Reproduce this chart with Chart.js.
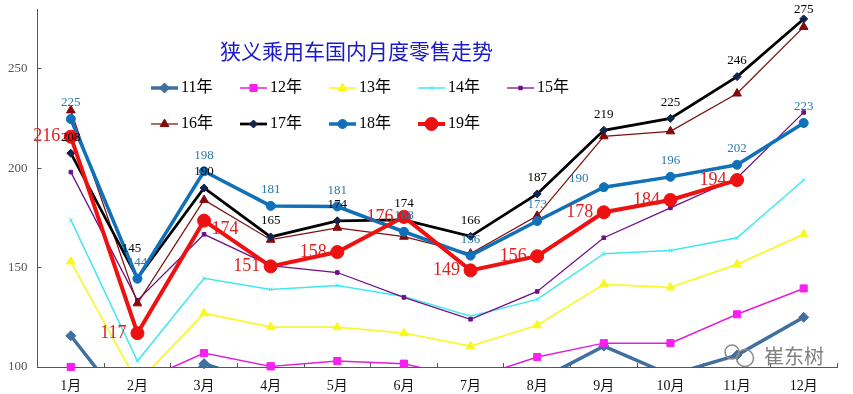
<!DOCTYPE html>
<html>
<head>
<meta charset="utf-8">
<style>
  html, body { margin: 0; padding: 0; background: #ffffff; }
  canvas { display: block; }
</style>
<script src="https://cdn.jsdelivr.net/npm/chart.js@4"></script>
</head>
<body>
<canvas id="my-chart" width="853" height="394"></canvas>
<script>
const months = ["1月", "2月", "3月", "4月", "5月", "6月", "7月", "8月", "9月", "10月", "11月", "12月"];
const yTicks = [100, 150, 200, 250];
const chartTitle = "狭义乘用车国内月度零售走势";
const watermark = "崔东树";

const y2011 = [115.7, 73, 101.6, 91, 88, 85, 85, 93, 110.5, 96, 106, 125];
const y2012 = [100, 92, 107, 100.3, 103, 101.6, 94, 105, 112, 112, 126.5, 139.5];
const y2013 = [153, 92, 127, 120, 120, 117, 110.5, 121, 141.6, 140, 151.6, 166.7];
const y2014 = [174, 103, 144.6, 139, 141, 135.5, 125.5, 134, 157, 158.6, 165, 194];
const y2015 = [198, 133.5, 166.7, 151, 147.5, 135, 124, 138, 165, 180, 195, 228];
const y2016 = [229, 132, 184, 164, 170, 165.5, 157, 176, 216, 218.5, 237.5, 271];
const y2017 = [207.5, 144.6, 190, 165.4, 173.5, 174, 165.7, 187, 219, 225, 246, 275];
const y2018 = [224.7, 144.4, 198.4, 181, 180.7, 168, 156, 173.4, 190.4, 195.6, 201.7, 222.7];
const y2019 = [215.8, 117, 173.6, 150.6, 157.8, 175.5, 148.6, 155.7, 177.8, 184, 194, null];

const serif = '"Liberation Serif", "Noto Sans CJK SC"';

function series(label, data, color, width, pointStyle, radius, pointColor) {
  return {
    label,
    data,
    borderColor: color,
    borderWidth: width,
    backgroundColor: pointColor || color,
    pointBackgroundColor: pointColor || color,
    pointBorderColor: pointColor || color,
    pointBorderWidth: 1,
    pointStyle,
    pointRadius: radius,
    tension: 0,
    clip: 0
  };
}

// chart.js draws the first dataset on top, so order makes 19年 the top one
const datasets = [
  series("11年", y2011, "#41709f", 3.5, "rectRot", 5),
  series("12年", y2012, "#e01fd8", 1.5, "rect", 5, "#f81ff0"),
  series("13年", y2013, "#f8f830", 1.75, "triangle", 5, "#f8f820"),
  series("14年", y2014, "#40e8f0", 1.5, "crossRot", 2.5),
  series("15年", y2015, "#700d88", 1.25, "rect", 2.5),
  series("16年", y2016, "#7e1010", 1.25, "triangle", 5, "#860808"),
  series("17年", y2017, "#000000", 2.75, "rectRot", 4, "#12234e"),
  series("18年", y2018, "#1070b8", 3.5, "circle", 4.5),
  series("19年", y2019, "#ee1111", 4, "circle", 6.5)
];
datasets.forEach((d, i) => { d.order = datasets.length - i; });

// value labels: [dataset index, colour, font size, default shift, shifts for single months]
const valueLabels = [
  [7, "#2a7ab0", 13, [0, -16], { 8: [-25, -9] }],
  [6, "#000000", 13, [0, -16], { 1: [-6, -30], 11: [0, -9] }],
  [8, "#e02020", 18, [-24, 0], { 2: [21, 9] }]
];

const extrasPlugin = {
  id: "extras",
  afterDatasetsDraw(chart) {
    const ctx = chart.ctx;
    const page = { left: 0, top: 0, right: chart.width, bottom: chart.height };

    // markers sitting on the axis are not cut off in the original
    [0, 1].forEach(i => {
      chart.getDatasetMeta(i).data.forEach((point, j) => {
        if (datasets[i].data[j] >= 100 && datasets[i].data[j] < 103) point.draw(ctx, page);
      });
    });

    ctx.save();
    ctx.textAlign = "center";
    ctx.textBaseline = "middle";

    valueLabels.forEach(([index, color, size, shift, special]) => {
      ctx.fillStyle = color;
      ctx.font = `${size}px ${serif}`;
      chart.getDatasetMeta(index).data.forEach((point, j) => {
        const value = datasets[index].data[j];
        if (value === null) return;
        const [dx, dy] = special[j] || shift;
        ctx.fillText(Math.round(value), point.x + dx, point.y + dy);
      });
    });

    // title
    ctx.fillStyle = "#1a1ac8";
    ctx.font = '21px "Noto Sans CJK SC"';
    ctx.textAlign = "left";
    ctx.fillText(chartTitle, 220, 51);

    // legend, two rows inside the plot
    ctx.font = `16px ${serif}`;
    datasets.forEach((d, i) => {
      const x = 151 + (i % 5) * 89;
      const y = 88 + Math.floor(i / 5) * 36;
      ctx.strokeStyle = d.borderColor;
      ctx.lineWidth = d.borderWidth;
      ctx.beginPath();
      ctx.moveTo(x, y);
      ctx.lineTo(x + 27, y);
      ctx.stroke();
      ctx.fillStyle = d.pointBackgroundColor;
      ctx.strokeStyle = d.pointBorderColor;
      ctx.lineWidth = 1;
      Chart.helpers.drawPoint(ctx, { pointStyle: d.pointStyle, radius: d.pointRadius, rotation: 0, borderWidth: 1 }, x + 13.5, y);
      ctx.fillStyle = "#000000";
      ctx.fillText(d.label, x + 30, y);
    });

    // watermark
    ctx.strokeStyle = "#8a8a8a";
    ctx.lineWidth = 1.5;
    ctx.beginPath();
    ctx.arc(732, 352, 7, 0, Math.PI * 2);
    ctx.stroke();
    ctx.beginPath();
    ctx.arc(745, 358, 8.5, 0, Math.PI * 2);
    ctx.stroke();
    ctx.fillStyle = "#808080";
    ctx.font = '20px "Noto Sans CJK SC"';
    ctx.fillText(watermark, 764, 356);
    ctx.restore();
  }
};

new Chart(document.getElementById("my-chart"), {
  type: "line",
  data: { labels: months, datasets },
  plugins: [extrasPlugin],
  options: {
    responsive: false,
    animation: false,
    layout: { padding: { top: 9, right: 16, left: 0, bottom: 0 } },
    plugins: {
      legend: { display: false },
      title: { display: false },
      tooltip: { enabled: false }
    },
    scales: {
      x: {
        offset: true,
        grid: { offset: true, drawOnChartArea: false, tickLength: -4, color: "#555555" },
        border: { color: "#555555", width: 1 },
        ticks: { color: "#111111", font: { family: serif, size: 14 }, padding: 15, maxRotation: 0 },
        afterFit(axis) {
          axis.height = 27;
          axis.paddingLeft = 0;
          axis.paddingRight = 0;
        }
      },
      y: {
        min: 100,
        max: 280,
        grid: { drawOnChartArea: false, tickLength: -4, color: "#555555" },
        border: { color: "#555555", width: 1 },
        ticks: { color: "#555555", font: { family: serif, size: 13 }, padding: 14, stepSize: 50 },
        afterBuildTicks(axis) {
          axis.ticks = yTicks.map(value => ({ value }));
        },
        afterFit(axis) {
          axis.width = 37.5;
          axis.paddingTop = 0;
          axis.paddingBottom = 0;
        }
      }
    }
  }
});
</script>
</body>
</html>
